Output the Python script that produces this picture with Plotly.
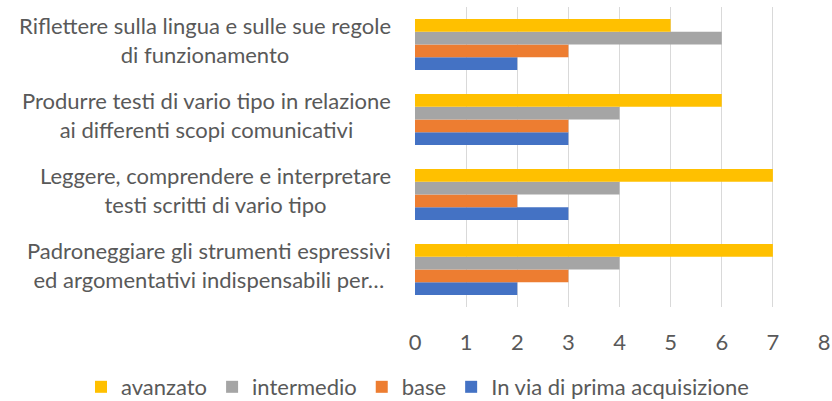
import plotly.graph_objects as go

categories = [
    "Padroneggiare gli strumenti espressivi<br>ed argomentativi indispensabili per…",
    "Leggere, comprendere e interpretare<br>testi scritti di vario tipo",
    "Produrre testi di vario tipo in relazione<br>ai differenti scopi comunicativi",
    "Riflettere sulla lingua e sulle sue regole<br>di funzionamento",
]
series_names = ["In via di prima acquisizione", "base", "intermedio", "avanzato"]
in_via = [2, 3, 3, 2]
base = [3, 2, 3, 3]
intermedio = [4, 4, 4, 6]
avanzato = [7, 7, 6, 5]
tick_values = [0, 1, 2, 3, 4, 5, 6, 7, 8]

colors = ["#4472C4", "#ED7D31", "#A5A5A5", "#FFC000"]
values = [in_via, base, intermedio, avanzato]

FONT = "Lato"
TXT = "#595959"
FS = 22

fig = go.Figure()
for name, vals, col in zip(series_names, values, colors):
    fig.add_trace(go.Bar(
        y=list(range(len(categories))), x=vals, name=name, orientation="h",
        marker=dict(color=col, line=dict(width=0)),
    ))

for i, cat in enumerate(categories):
    fig.add_annotation(
        x=0, xref="paper", y=i, yref="y", text=cat, showarrow=False,
        xanchor="right", yanchor="middle", align="center", xshift=-22, yshift=5,
        font=dict(family=FONT, size=FS, color=TXT),
    )

fig.update_layout(
    width=832, height=401,
    margin=dict(l=415, r=8, t=7, b=94, autoexpand=False),
    paper_bgcolor="white", plot_bgcolor="white",
    barmode="group", bargap=0.32, bargroupgap=0,
    font=dict(family=FONT, size=FS, color=TXT),
    showlegend=True,
    legend=dict(
        orientation="h", xref="paper", x=-0.8166, xanchor="left",
        yref="paper", y=-0.2667, yanchor="middle",
        traceorder="reversed", font=dict(family=FONT, size=FS, color=TXT),
        itemwidth=30,
    ),
)
fig.update_xaxes(
    range=[0, 8], tickvals=tick_values, ticktext=[str(v) for v in tick_values],
    showgrid=True, gridcolor="#D9D9D9", gridwidth=1, zeroline=False,
    showline=False, ticklabelstandoff=20, tickfont=dict(family=FONT, size=FS, color=TXT),
)
fig.update_yaxes(
    range=[-0.5, len(categories) - 0.5], showticklabels=False, showgrid=False,
    zeroline=False, showline=False,
)

fig.write_html(
    "out.html",
    config={"displayModeBar": False},
    post_script="document.body.style.margin='0';document.body.style.overflow='hidden';",
)
